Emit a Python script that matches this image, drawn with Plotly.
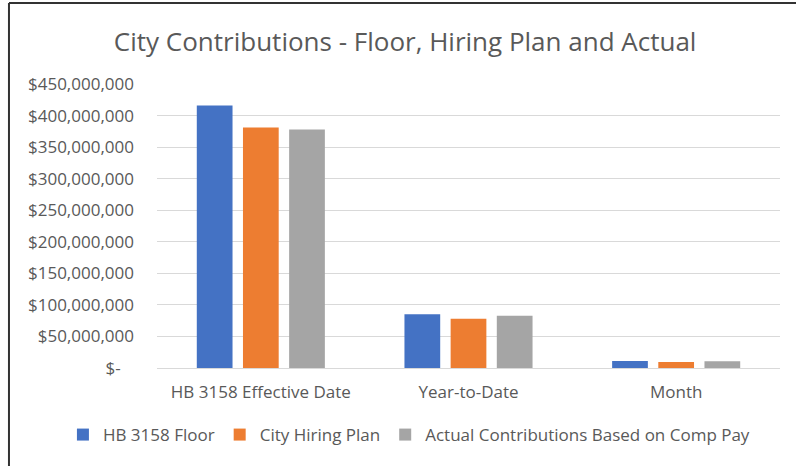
from plotly import graph_objects as go

categories = ['HB 3158 Effective Date', 'Year-to-Date', 'Month']
hb_floor = [416000000, 85300000, 11000000]
hiring_plan = [381000000, 78000000, 9500000]
actual_comp_pay = [378000000, 82700000, 10500000]

tick_vals = [0, 50000000, 100000000, 150000000, 200000000, 250000000,
             300000000, 350000000, 400000000, 450000000]
tick_text = ['$-\u00a0\u00a0\u00a0', '$50,000,000', '$100,000,000', '$150,000,000',
             '$200,000,000', '$250,000,000', '$300,000,000', '$350,000,000',
             '$400,000,000', '$450,000,000']

FONT = 'Open Sans'
GREY_TEXT = '#595959'

fig = go.Figure()
fig.add_trace(go.Bar(x=categories, y=hb_floor, name='HB 3158 Floor',
                     marker=dict(color='#4472C4', line=dict(width=0))))
fig.add_trace(go.Bar(x=categories, y=hiring_plan, name='City Hiring Plan',
                     marker=dict(color='#ED7D31', line=dict(width=0))))
fig.add_trace(go.Bar(x=categories, y=actual_comp_pay, name='Actual Contributions Based on Comp Pay',
                     marker=dict(color='#A5A5A5', line=dict(width=0))))

fig.update_layout(
    width=796, height=466,
    margin=dict(l=157, r=16, t=84, b=98, autoexpand=False),
    paper_bgcolor='white', plot_bgcolor='white',
    font=dict(family=FONT, size=17, color=GREY_TEXT),
    title=dict(text='City Contributions - Floor, Hiring Plan and Actual',
               x=0.509, xanchor='center', y=0.91, yanchor='middle',
               font=dict(family=FONT, size=26, color=GREY_TEXT)),
    barmode='group', bargap=0.333, bargroupgap=0.226,
    showlegend=True,
    legend=dict(orientation='h', x=-0.151, xanchor='left', y=-0.236, yanchor='middle',
                font=dict(family=FONT, size=17, color=GREY_TEXT),
                itemwidth=30, tracegroupgap=0),
)

fig.update_yaxes(range=[0, 450000000], tickvals=tick_vals, ticktext=tick_text,
                 showgrid=True, gridcolor='#D9D9D9', gridwidth=1,
                 zeroline=True, zerolinecolor='#D9D9D9', zerolinewidth=1,
                 showline=False, ticklabelstandoff=22,
                 tickfont=dict(family=FONT, size=17, color=GREY_TEXT))
fig.update_xaxes(showgrid=False, showline=False, ticks='',
                 ticklabelstandoff=12,
                 tickfont=dict(family=FONT, size=17, color=GREY_TEXT))

# frame of the chart area (only left and top edges are visible in the source)
fig.add_shape(type='line', xref='paper', yref='paper',
              x0=-0.2376, x1=-0.2376, y0=-0.5, y1=1.285,
              line=dict(color='#333333', width=2))
fig.add_shape(type='line', xref='paper', yref='paper',
              x0=-0.2376, x1=1.1, y0=1.285, y1=1.285,
              line=dict(color='#333333', width=2))

fig.write_html("out.html", config={'displayModeBar': False},
               post_script="document.body.style.margin='0';")
